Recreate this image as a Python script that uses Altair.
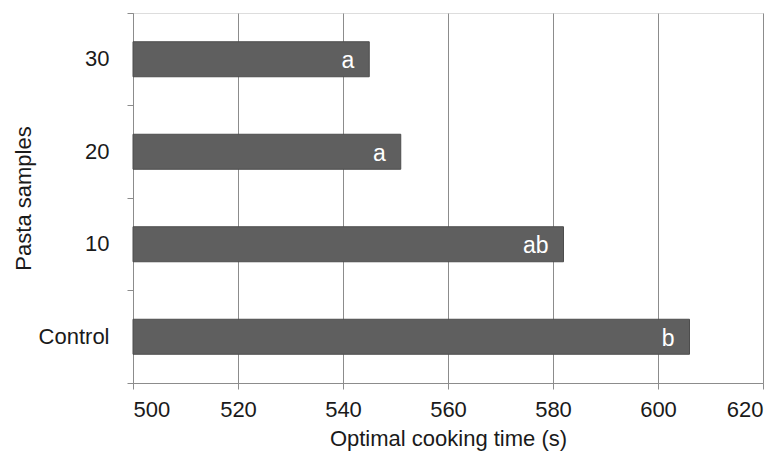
import altair as alt
import pandas as pd

samples = ["30", "20", "10", "Control"]
cook_time = [545, 551, 582, 606]
letters = ["a", "a", "ab", "b"]

df = pd.DataFrame({"sample": samples, "time": cook_time, "letter": letters})

FONT = "Liberation Sans"

y_enc = alt.Y(
    "sample:N",
    sort=samples,
    scale=alt.Scale(paddingInner=0, paddingOuter=0),
    axis=alt.Axis(
        title="Pasta samples",
        bandPosition=1,
        tickExtra=True,
        tickSize=6,
        tickColor="#8c8c8c",
        domainColor="#8c8c8c",
        labelFont=FONT,
        labelFontSize=22,
        labelColor="#1a1a1a",
        labelPadding=18,
        titleFont=FONT,
        titleFontSize=22,
        titleFontWeight="normal",
        titleColor="#1a1a1a",
        titlePadding=3,
        grid=False,
    ),
)

x_enc = alt.X(
    "time:Q",
    scale=alt.Scale(domain=[500, 620], nice=False, zero=False),
    axis=alt.Axis(
        title="Optimal cooking time (s)",
        values=[500, 520, 540, 560, 580, 600, 620],
        tickSize=6,
        tickColor="#8c8c8c",
        domainColor="#8c8c8c",
        gridColor="#8c8c8c",
        gridOpacity=1,
        labelFont=FONT,
        labelFontSize=22,
        labelColor="#1a1a1a",
        labelPadding=10,
        titleFont=FONT,
        titleFontSize=22,
        titleFontWeight="normal",
        titleColor="#1a1a1a",
        titlePadding=8,
    ),
)

bars = alt.Chart(df).mark_bar(
    size=35, color="#5f5f5f", stroke="#4d4d4d", strokeWidth=1
).encode(x=x_enc, x2=alt.datum(500), y=y_enc)

text = alt.Chart(df).mark_text(
    align="right", baseline="middle", dx=-15, dy=2, color="white", font=FONT, fontSize=23
).encode(x="time:Q", y=alt.Y("sample:N", sort=samples), text="letter:N")

chart = (
    alt.layer(bars, text)
    .properties(
        width=630,
        height=370,
        autosize=alt.AutoSizeParams(type="none"),
        padding={"left": 125, "top": 5, "right": 10, "bottom": 76},
    )
    .configure_view(stroke=None)
    .configure(background="white")
)

chart.save("out.html", embed_options={"renderer": "svg", "actions": False})
